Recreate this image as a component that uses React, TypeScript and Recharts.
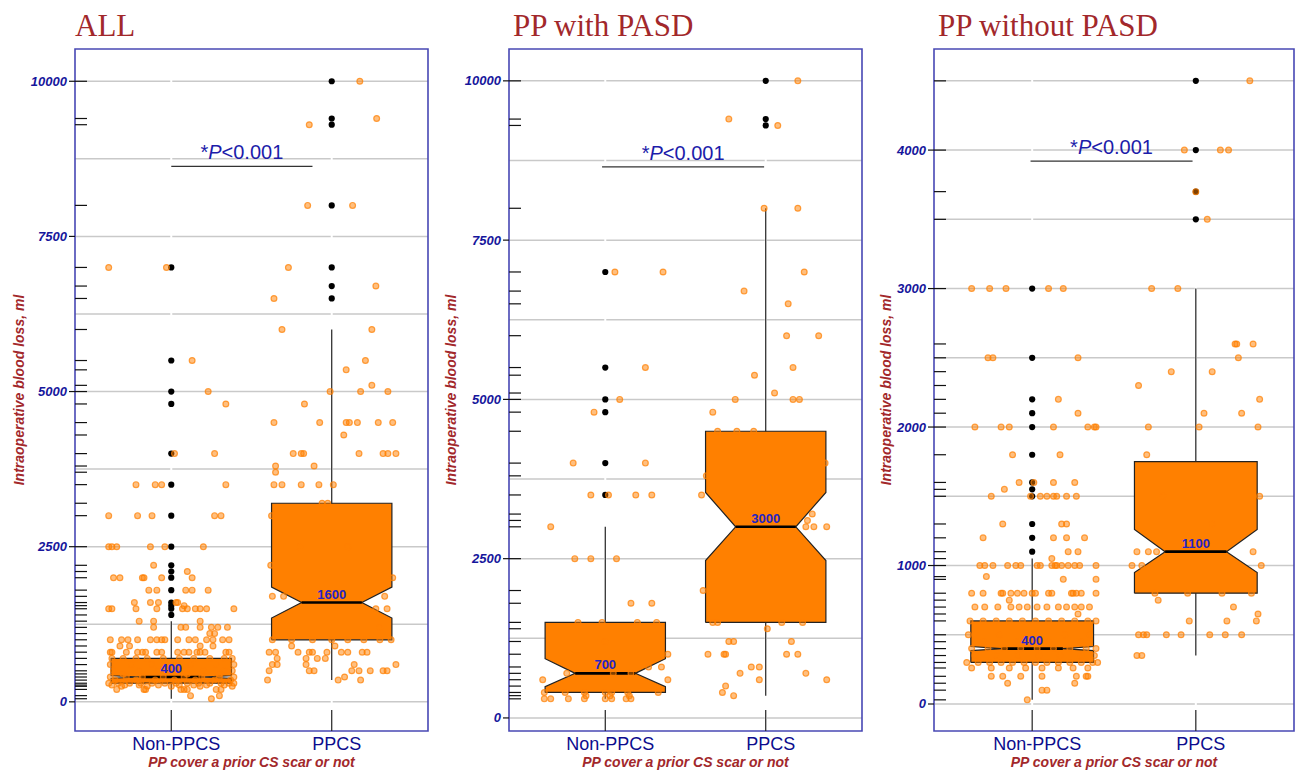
import React from 'react';
import { ComposedChart, Scatter, XAxis, YAxis, CartesianGrid, ReferenceArea } from 'recharts';

type Row = [number, number[]]; // [value, jitter offsets in category units]

const categories = ['Non-PPCS', 'PPCS'];
const panelTitles = ['ALL', 'PP with PASD', 'PP without PASD'];
const yAxisTitle = 'Intraoperative blood loss, ml';
const xAxisTitle = 'PP cover a prior CS scar or not';
const pValueParts = ['*', 'P', '<0.001'];

// ---------- Panel 1: ALL ----------
const allYTicks = [0, 2500, 5000, 7500, 10000];
const allGrid = [0, 1250, 2500, 3750, 5000, 6250, 7500, 8750, 10000];
const allDomain = [-470, 10520];
// [whiskerLow, q1, notchLow, median, notchHigh, q3, whiskerHigh]
const allNonPpcsBox = [50, 300, 380, 400, 420, 700, 1300];
const allPpcsBox = [350, 1000, 1350, 1600, 1850, 3200, 6000];
const allNonPpcsOutliers = [7000, 5500, 5000, 4800, 4000, 3500, 3000, 2500, 2200, 2100, 2000, 1800, 1600, 1550, 1500, 1400];
const allPpcsOutliers = [10000, 9400, 9300, 8000, 7000, 6700, 6500];
const allSignificance = [1, 1.88, 8630];
const allNonPpcsPoints: Row[] = [
  [7000, [-0.39, -0.03]],
  [5500, [0.13]],
  [5000, [0.23]],
  [4800, [0.34]],
  [4000, [0.02, 0.27]],
  [3500, [-0.22, -0.1, -0.06, 0.34]],
  [3000, [-0.39, -0.21, -0.12, 0.27, 0.31]],
  [2500, [-0.39, -0.37, -0.34, -0.13, -0.04, 0.2]],
  [2200, [-0.11]],
  [2100, [0.1]],
  [2000, [-0.36, -0.32, -0.18, -0.17, -0.06, 0.13]],
  [1800, [-0.14, -0.09, 0.09, 0.13, 0.23]],
  [1600, [-0.23, -0.13, -0.08, 0.03, 0.04]],
  [1550, [0.08]],
  [1500, [-0.39, -0.37, -0.22, -0.09, 0.07, 0.1, 0.15, 0.18, 0.22, 0.39]],
  [1300, [-0.2, -0.11, 0.18]],
  [1200, [-0.11, 0.06, 0.09, 0.18, 0.25, 0.29, 0.35]],
  [1100, [0.24, 0.27]],
  [1000, [-0.38, -0.31, -0.27, -0.21, -0.13, -0.09, -0.06, -0.04, 0.04, 0.11, 0.15, 0.22, 0.26, 0.32, 0.36]],
  [900, [-0.32, -0.26, 0.18, 0.26]],
  [800, [-0.38, -0.37, -0.28, -0.21, -0.18, -0.16, -0.09, -0.06, 0.04, 0.08, 0.11, 0.16, 0.18, 0.21, 0.34, 0.36]],
  [700, [-0.37, -0.3, -0.22, -0.15, -0.05, 0.05, 0.14, 0.24, 0.33, 0.38]],
  [600, [-0.38, -0.25, -0.12, 0.0, 0.12, 0.28, 0.39]],
  [500, [-0.36, -0.2, -0.08, 0.06, 0.2, 0.33, 0.38]],
  [450, [-0.3, 0.1, 0.3]],
  [400, [-0.38, -0.28, -0.18, -0.05, 0.08, 0.19, 0.3, 0.39]],
  [350, [-0.35, -0.22, -0.1, 0.02, 0.15, 0.27, 0.37]],
  [300, [-0.39, -0.33, -0.26, -0.19, -0.12, -0.04, 0.03, 0.1, 0.17, 0.24, 0.31, 0.36, 0.39]],
  [270, [-0.37, -0.29, -0.2, -0.08, 0.05, 0.14, 0.22, 0.33]],
  [250, [-0.31, -0.15, 0.0, 0.18, 0.38]],
  [200, [-0.34, -0.17, -0.16, 0.06, 0.08, 0.1, 0.28, 0.31]],
  [100, [0.12, 0.3]],
  [50, [0.25]],
];
const allPpcsPoints: Row[] = [
  [10000, [0.175]],
  [9400, [0.28]],
  [9300, [-0.14]],
  [8000, [-0.15, 0.13]],
  [7000, [-0.27]],
  [6700, [0.275]],
  [6500, [-0.36]],
  [6000, [-0.31, 0.25]],
  [5500, [0.21]],
  [5350, [0.09]],
  [5100, [0.25]],
  [5000, [-0.01, 0.18, 0.35]],
  [4800, [-0.17]],
  [4500, [-0.36, -0.075, 0.09, 0.11, 0.16, 0.29, 0.38]],
  [4300, [0.075]],
  [4000, [-0.24, -0.19, -0.175, 0.17, 0.32, 0.35, 0.4]],
  [3800, [-0.35, -0.11]],
  [3700, [-0.35]],
  [3500, [-0.36, -0.31, -0.19, -0.08, 0.01]],
  [3200, [-0.06, -0.025]],
  [3000, [-0.375]],
  [2500, [-0.2, 0.1]],
  [2200, [-0.38]],
  [2000, [0.38]],
  [1700, [-0.37, -0.3, 0.33]],
  [1500, [0.275, 0.345]],
  [1200, [0.3]],
  [1000, [-0.37, -0.25, -0.12, 0.0, 0.1, 0.2, 0.3, 0.37]],
  [900, [-0.25, 0.02]],
  [800, [-0.39, -0.35, -0.21, -0.14, -0.12, -0.03, 0.06, 0.1, 0.19, 0.22]],
  [700, [-0.34, -0.16, -0.09, -0.04]],
  [600, [-0.37, -0.34, -0.16, 0.14, 0.4]],
  [500, [-0.39, -0.14, -0.11, 0.125, 0.17, 0.24, 0.32, 0.345]],
  [400, [0.08]],
  [350, [-0.4, 0.04, 0.18]],
];

// ---------- Panel 2: PP with PASD ----------
const pasdYTicks = [0, 2500, 5000, 7500, 10000];
const pasdGrid = [0, 1250, 2500, 3750, 5000, 6250, 7500, 8750, 10000];
const pasdDomain = [-205, 10500];
const pasdNonPpcsBox = [300, 400, 490, 700, 930, 1500, 3000];
const pasdPpcsBox = [350, 1500, 2470, 3000, 3540, 4500, 8000];
const pasdNonPpcsOutliers = [7000, 5500, 5000, 4800, 4000, 3500];
const pasdPpcsOutliers = [10000, 9400, 9300];
const pasdSignificance = [0.98, 1.99, 8650];
const pasdNonPpcsPoints: Row[] = [
  [7000, [0.06, 0.36]],
  [5500, [0.25]],
  [5000, [0.09]],
  [4800, [-0.07]],
  [4000, [-0.2, 0.25]],
  [3500, [-0.09, 0.02, 0.19, 0.29]],
  [3000, [-0.34]],
  [2500, [-0.19, -0.09, 0.07]],
  [1800, [0.16, 0.29]],
  [1500, [-0.17, -0.02, 0.2, 0.32]],
  [1200, [0.0]],
  [1000, [0.39]],
  [800, [0.27, 0.35]],
  [700, [-0.24, 0.05, 0.16]],
  [600, [-0.39, 0.39]],
  [400, [-0.38, -0.25, -0.13, 0.0, 0.04, 0.14, 0.33]],
  [350, [-0.12, 0.03, 0.15]],
  [300, [-0.38, -0.34, -0.23, -0.13, 0.0, 0.04, 0.13, 0.16]],
];
const pasdPpcsPoints: Row[] = [
  [10000, [0.2]],
  [9400, [-0.23]],
  [9300, [0.075]],
  [8000, [-0.01, 0.2]],
  [7000, [0.24]],
  [6700, [-0.135]],
  [6500, [0.14]],
  [6000, [0.13, 0.33]],
  [5500, [0.17]],
  [5380, [-0.07]],
  [5100, [0.055]],
  [5000, [-0.19, 0.17, 0.21]],
  [4800, [-0.33]],
  [4500, [-0.3, -0.18, -0.075]],
  [4000, [0.37]],
  [3800, [-0.37]],
  [3500, [-0.4]],
  [3200, [0.29]],
  [3100, [0.26]],
  [3000, [0.25, 0.3, 0.38]],
  [2000, [-0.39]],
  [1500, [-0.33, -0.3, 0.1, 0.23]],
  [1400, [0.01]],
  [1200, [-0.23, -0.2, 0.16]],
  [1000, [-0.36, -0.26, -0.25, 0.13, 0.2]],
  [800, [-0.09, -0.04]],
  [700, [-0.16, 0.25]],
  [600, [-0.04, 0.38]],
  [500, [-0.25]],
  [400, [-0.27]],
  [350, [-0.2]],
];

// ---------- Panel 3: PP without PASD ----------
const noPasdYTicks = [0, 1000, 2000, 3000, 4000];
const noPasdGrid = [0, 500, 1000, 1500, 2000, 2500, 3000, 3500, 4000, 4500];
const noPasdDomain = [-195, 4730];
const noPasdNonPpcsBox = [30, 300, 385, 400, 415, 600, 1050];
const noPasdPpcsBox = [350, 800, 950, 1100, 1260, 1750, 3000];
const noPasdNonPpcsOutliers = [3000, 2500, 2200, 2100, 2000, 1800, 1600, 1550, 1500, 1300, 1200, 1100];
const noPasdPpcsOutliers = [4500, 4000, 3700, 3500];
const noPasdSignificance = [0.99, 1.98, 3920];
const noPasdNonPpcsPoints: Row[] = [
  [3000, [-0.37, -0.26, -0.16, 0.1, 0.19]],
  [2500, [-0.27, -0.24, 0.28]],
  [2200, [0.16]],
  [2100, [0.28]],
  [2000, [-0.35, -0.19, -0.14, 0.13, 0.34, 0.38, 0.39]],
  [1800, [-0.12, 0.17]],
  [1600, [-0.08, 0.01, 0.13, 0.26]],
  [1550, [-0.17]],
  [1500, [-0.25, -0.01, 0.05, 0.09, 0.13, 0.15, 0.21, 0.27]],
  [1300, [-0.18, 0.18, 0.21]],
  [1200, [-0.3, 0.13, 0.21, 0.32]],
  [1100, [0.22, 0.28]],
  [1050, [0.12]],
  [1000, [-0.32, -0.29, -0.24, -0.15, -0.1, -0.07, 0.03, 0.05, 0.12, 0.14, 0.15, 0.18, 0.22, 0.26, 0.29, 0.39]],
  [920, [-0.28]],
  [900, [0.19, 0.39]],
  [800, [-0.37, -0.3, -0.19, -0.18, -0.13, -0.09, -0.05, 0.0, 0.02, 0.1, 0.12, 0.24, 0.25, 0.27, 0.3, 0.39]],
  [750, [-0.14]],
  [700, [-0.35, -0.29, -0.21, -0.13, -0.08, -0.03, 0.03, 0.09, 0.16, 0.21, 0.26, 0.3, 0.35]],
  [650, [0.28]],
  [600, [-0.38, -0.3, -0.22, -0.14, -0.06, 0.02, 0.1, 0.18, 0.26, 0.34, 0.39]],
  [500, [-0.39, -0.2, 0.0, 0.2, 0.35]],
  [450, [-0.3, -0.1, 0.1, 0.3]],
  [400, [-0.37, -0.27, -0.17, -0.07, 0.03, 0.13, 0.23, 0.33, 0.39]],
  [350, [-0.35, -0.22, -0.09, 0.04, 0.17, 0.3, 0.38]],
  [300, [-0.4, -0.33, -0.26, -0.19, -0.12, -0.05, 0.02, 0.09, 0.16, 0.23, 0.3, 0.37, 0.4]],
  [260, [-0.37, -0.25, -0.14, -0.04, 0.06, 0.16, 0.25, 0.34]],
  [200, [-0.25, -0.18, -0.07, 0.06, 0.27, 0.33, 0.34]],
  [150, [-0.15, 0.26]],
  [100, [0.06, 0.09]],
  [30, [-0.03]],
];
const noPasdPpcsPoints: Row[] = [
  [4500, [0.33]],
  [4000, [-0.07, 0.15, 0.2]],
  [3700, [0.0]],
  [3500, [0.07]],
  [3000, [-0.27, -0.11]],
  [2600, [0.24, 0.25, 0.35]],
  [2500, [0.26]],
  [2400, [-0.15, 0.1]],
  [2300, [-0.35]],
  [2200, [0.39]],
  [2100, [0.05, 0.28]],
  [2000, [-0.29, 0.02, 0.38]],
  [1800, [-0.3]],
  [1500, [-0.2, 0.39]],
  [1300, [0.1]],
  [1100, [-0.36, -0.29, -0.24, 0.35]],
  [1000, [-0.39, -0.33, 0.4]],
  [800, [-0.25, -0.05, 0.16, 0.34]],
  [750, [-0.23]],
  [700, [0.23]],
  [650, [0.38]],
  [600, [-0.04, 0.19, 0.37]],
  [500, [-0.35, -0.32, -0.3, -0.18, -0.09, 0.085, 0.18, 0.28]],
  [350, [-0.36, -0.33]],
];

// ---------- styling ----------
const SANS = "'Liberation Sans', Arial, Helvetica, sans-serif";
const SERIF = "'Liberation Serif', 'Times New Roman', serif";
const DARK_RED = '#a2282b';
const AXIS_BLUE = '#16169c';
const FRAME_BLUE = '#4848b4';
const BOX_ORANGE = '#ff8000';
const X_DOMAIN = [0.4, 2.6];
const BOX_HALF = 0.375;
const NOTCH_HALF = 0.1875;

interface PanelData {
  title: string;
  yTicks: number[];
  grid: number[];
  domain: number[];
  boxes: number[][];
  outliers: number[][];
  points: Row[][];
  significance: number[];
}

const panels: PanelData[] = [
  {
    title: panelTitles[0], yTicks: allYTicks, grid: allGrid, domain: allDomain,
    boxes: [allNonPpcsBox, allPpcsBox], outliers: [allNonPpcsOutliers, allPpcsOutliers],
    points: [allNonPpcsPoints, allPpcsPoints], significance: allSignificance,
  },
  {
    title: panelTitles[1], yTicks: pasdYTicks, grid: pasdGrid, domain: pasdDomain,
    boxes: [pasdNonPpcsBox, pasdPpcsBox], outliers: [pasdNonPpcsOutliers, pasdPpcsOutliers],
    points: [pasdNonPpcsPoints, pasdPpcsPoints], significance: pasdSignificance,
  },
  {
    title: panelTitles[2], yTicks: noPasdYTicks, grid: noPasdGrid, domain: noPasdDomain,
    boxes: [noPasdNonPpcsBox, noPasdPpcsBox], outliers: [noPasdNonPpcsOutliers, noPasdPpcsOutliers],
    points: [noPasdNonPpcsPoints, noPasdPpcsPoints], significance: noPasdSignificance,
  },
];

// layout (pixels): chart left, chart width, y-axis width, right margin, y-title offset, title x
const layouts = [
  { left: 0, width: 440, yAxisWidth: 75, right: 12, yTitleOffset: 19, titleX: 75 },
  { left: 440, width: 430, yAxisWidth: 69, right: 8, yTitleOffset: 11, titleX: 513 },
  { left: 870, width: 425, yAxisWidth: 64, right: 1, yTitleOffset: 16, titleX: 938 },
];

const spread = (rows: Row[], c: number) =>
  rows.flatMap(([v, dxs]) => dxs.map((dx) => ({ x: c + dx, y: v })));

const boxOutline = (c: number, s: number[]) => {
  const [, q1, nl, med, nh, q3] = s;
  return [
    { x: c - BOX_HALF, y: q1 }, { x: c + BOX_HALF, y: q1 }, { x: c + BOX_HALF, y: nl },
    { x: c + NOTCH_HALF, y: med }, { x: c + BOX_HALF, y: nh }, { x: c + BOX_HALF, y: q3 },
    { x: c - BOX_HALF, y: q3 }, { x: c - BOX_HALF, y: nh }, { x: c - NOTCH_HALF, y: med },
    { x: c - BOX_HALF, y: nl }, { x: c - BOX_HALF, y: q1 },
  ];
};

const Empty = () => <g />;

const OrangeDot = (p: any) => (
  <circle cx={p.cx} cy={p.cy} r={2.9} fill={BOX_ORANGE} fillOpacity={0.5}
    stroke={BOX_ORANGE} strokeOpacity={0.72} strokeWidth={1.2} />
);
const BlackDot = (p: any) => <circle cx={p.cx} cy={p.cy} r={3.1} fill="#000" />;
const RugTick = (p: any) => <line x1={p.cx} x2={p.cx + 12} y1={p.cy} y2={p.cy} stroke="#111" strokeWidth={1.2} />;
const BottomTick = (p: any) => <line x1={p.cx} x2={p.cx} y1={p.cy} y2={p.cy - 21} stroke="#222" strokeWidth={1.2} />;
const MedianLabel = (p: any) => (
  <text x={p.cx} y={p.cy - 4} textAnchor="middle" fill="#2424c4" fontSize={13}
    fontWeight="bold" fontFamily={SANS}>{p.payload.y}</text>
);
const PValueLabel = (p: any) => (
  <text x={p.cx} y={p.cy - 7} textAnchor="middle" fill="#1c1caa" fontSize={20} fontFamily={SANS}>
    <tspan>{pValueParts[0]}</tspan>
    <tspan fontStyle="italic">{pValueParts[1]}</tspan>
    <tspan>{pValueParts[2]}</tspan>
  </text>
);

const XTick = (p: any) => (
  <text x={p.x + 5} y={p.y} dy={13} textAnchor="middle" fill="#0c0c8e" fontSize={18} fontFamily={SANS}>
    {categories[Math.round(p.payload.value) - 1]}
  </text>
);
const YTick = (p: any) => (
  <text x={p.x} y={p.y} dy={4.5} textAnchor="end" fill={AXIS_BLUE} fontSize={13}
    fontStyle="italic" fontWeight="bold" fontFamily={SANS}>{p.payload.value}</text>
);

function Panel({ data, layout }: { data: PanelData; layout: typeof layouts[number] }) {
  const centers = [1, 2];
  const rugValues = Array.from(
    new Set([
      ...data.points.flatMap((rows) => rows.map((r) => r[0])),
      ...data.outliers.flat(),
    ])
  ).map((v) => ({ x: X_DOMAIN[0], y: v }));
  const [sx1, sx2, sy] = data.significance;

  return (
    <div style={{ position: 'absolute', left: layout.left, top: 0 }}>
      <ComposedChart width={layout.width} height={772}
        margin={{ top: 49, right: layout.right, bottom: 0, left: 0 }}>
        <CartesianGrid horizontal vertical={false} horizontalValues={data.grid}
          stroke="#c9c9c9" strokeWidth={1.5} strokeDasharray="" />
        <CartesianGrid horizontal={false} vertical verticalValues={centers}
          stroke="#ffffff" strokeWidth={2} strokeDasharray="" />
        <XAxis dataKey="x" type="number" domain={X_DOMAIN} ticks={centers} allowDataOverflow
          height={41} tickSize={0} tickMargin={6} axisLine={false} tickLine={false} tick={<XTick />}
          label={{ value: xAxisTitle, position: 'insideBottom', offset: 5,
            style: { fill: DARK_RED, fontSize: 14, fontStyle: 'italic', fontWeight: 'bold', fontFamily: SANS } }} />
        <YAxis dataKey="y" type="number" domain={data.domain} ticks={data.yTicks} allowDataOverflow
          width={layout.yAxisWidth} tickSize={6} tickMargin={2} axisLine={false}
          tickLine={{ stroke: '#111', strokeWidth: 1.2 }} tick={<YTick />}
          label={{ value: yAxisTitle, angle: -90, position: 'insideLeft', offset: layout.yTitleOffset,
            style: { textAnchor: 'middle', fill: DARK_RED, fontSize: 14, fontStyle: 'italic', fontWeight: 'bold', fontFamily: SANS } }} />

        {centers.map((c, i) => (
          <Scatter key={`wh${i}`} data={[{ x: c, y: data.boxes[i][0] }, { x: c, y: data.boxes[i][6] }]}
            shape={<Empty />} line={{ stroke: '#222', strokeWidth: 1.2 }} isAnimationActive={false} />
        ))}
        {centers.map((c, i) => (
          <Scatter key={`bx${i}`} data={boxOutline(c, data.boxes[i])} shape={<Empty />}
            line={{ stroke: '#222', strokeWidth: 1.2, fill: BOX_ORANGE }} isAnimationActive={false} />
        ))}
        {centers.map((c, i) => (
          <Scatter key={`md${i}`}
            data={[{ x: c - NOTCH_HALF, y: data.boxes[i][3] }, { x: c + NOTCH_HALF, y: data.boxes[i][3] }]}
            shape={<Empty />} line={{ stroke: '#000', strokeWidth: 2.6 }} isAnimationActive={false} />
        ))}
        {centers.map((c, i) => (
          <Scatter key={`ol${i}`} data={data.outliers[i].map((v) => ({ x: c, y: v }))}
            shape={<BlackDot />} isAnimationActive={false} />
        ))}
        {centers.map((c, i) => (
          <Scatter key={`pt${i}`} data={spread(data.points[i], c)} shape={<OrangeDot />} isAnimationActive={false} />
        ))}
        {centers.map((c, i) => (
          <Scatter key={`ml${i}`} data={[{ x: c, y: data.boxes[i][3] }]} shape={<MedianLabel />} isAnimationActive={false} />
        ))}
        <Scatter data={rugValues} shape={<RugTick />} isAnimationActive={false} />
        <Scatter data={centers.map((c) => ({ x: c, y: data.domain[0] }))} shape={<BottomTick />} isAnimationActive={false} />
        <Scatter data={[{ x: sx1, y: sy }, { x: sx2, y: sy }]} shape={<Empty />}
          line={{ stroke: '#333', strokeWidth: 1.3 }} isAnimationActive={false} />
        <Scatter data={[{ x: (sx1 + sx2) / 2, y: sy }]} shape={<PValueLabel />} isAnimationActive={false} />
        <ReferenceArea x1={X_DOMAIN[0]} x2={X_DOMAIN[1]} y1={data.domain[0]} y2={data.domain[1]}
          fill="none" fillOpacity={0} stroke={FRAME_BLUE} strokeWidth={1.6} ifOverflow="visible" />
      </ComposedChart>
    </div>
  );
}

export default function App() {
  return (
    <div style={{ position: 'absolute', left: 0, top: 0, width: 1295, height: 772, background: '#fff', overflow: 'hidden' }}>
      {panels.map((p, i) => (
        <Panel key={i} data={p} layout={layouts[i]} />
      ))}
      <svg width={1295} height={772} style={{ position: 'absolute', left: 0, top: 0, pointerEvents: 'none' }}>
        {panels.map((p, i) => (
          <text key={i} x={layouts[i].titleX} y={36} fill={DARK_RED} fontSize={31} fontFamily={SERIF}>{p.title}</text>
        ))}
      </svg>
    </div>
  );
}
